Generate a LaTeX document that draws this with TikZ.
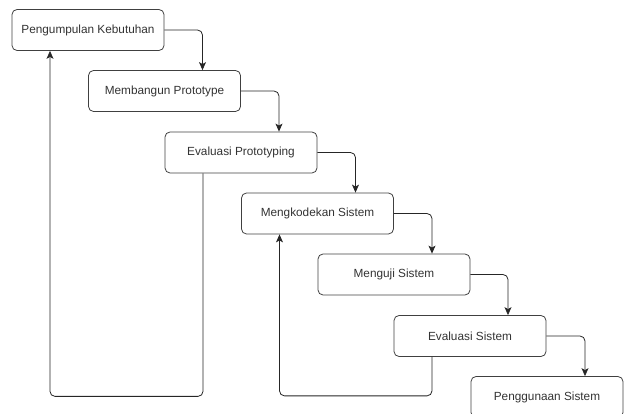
\documentclass[tikz,border=0pt]{standalone}
\usepackage{fontspec}
\setmainfont{Liberation Sans}
\usetikzlibrary{arrows.meta}
\begin{document}
\begin{tikzpicture}[x=1pt, y=-1pt,
    tahap/.style={draw=black!75, line width=0.8pt, rounded corners=5pt,
        minimum width=152pt, minimum height=41pt, inner sep=0pt,
        font=\fontsize{11.8}{14}\selectfont, text=black!80},
    alur/.style={draw=black!85, line width=0.8pt, rounded corners=5pt,
        -{Stealth[length=8pt, width=7pt, inset=2pt]}}]
    \useasboundingbox (0,0) rectangle (625,414);

    % Tahapan prototyping
    \node[tahap] (b1) at (88,30)      {Pengumpulan Kebutuhan};
    \node[tahap] (b2) at (164.5,91)   {Membangun Prototype};
    \node[tahap] (b3) at (241,152.5)  {Evaluasi Prototyping};
    \node[tahap] (b4) at (317.5,213.5){Mengkodekan Sistem};
    \node[tahap] (b5) at (394,274.5)  {Menguji Sistem};
    \node[tahap] (b6) at (470,336)    {Evaluasi Sistem};
    \node[tahap] (b7) at (547,397)    {Penggunaan Sistem};

    % Alur ke tahap berikutnya
    \foreach \a/\b in {b1/b2, b2/b3, b3/b4, b4/b5, b5/b6, b6/b7}
        \draw[alur] (\a.east) -| ([xshift=38pt]\b.north);

    % Alur kembali
    \draw[alur] ([xshift=-38pt]b3.south) -- ++(0,223) -| ([xshift=-38pt]b1.south);
    \draw[alur] ([xshift=-38pt]b6.south) -- ++(0,39) -| ([xshift=-38pt]b4.south);
\end{tikzpicture}
\end{document}
